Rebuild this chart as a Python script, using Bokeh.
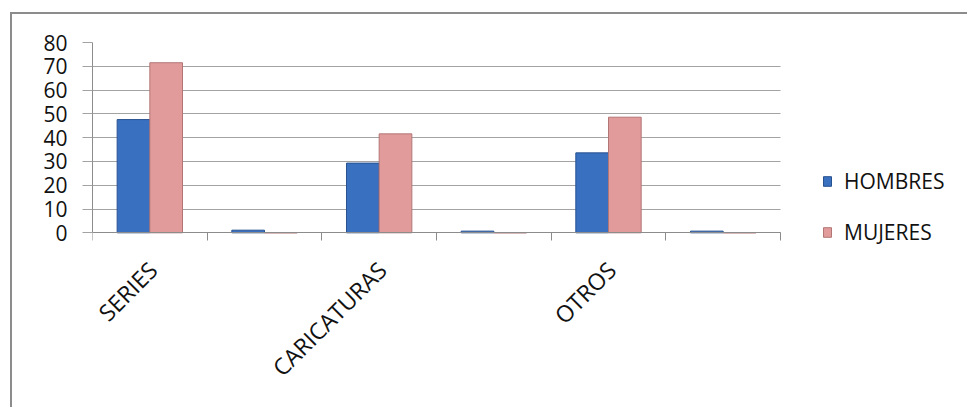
import numpy as np
from math import pi
from bokeh.plotting import figure
from bokeh.models import ColumnDataSource, FixedTicker, Range1d, Legend, LegendItem
from bokeh.core.properties import value
from bokeh.embed import file_html
from bokeh.resources import INLINE

# ---- data ----
categories = ["SERIES", "", "CARICATURAS", "", "OTROS", ""]
hombres = [47.6, 1.1, 29.3, 0.7, 33.6, 0.7]
mujeres = [71.5, 0.0, 41.6, 0.0, 48.6, 0.0]
series_names = ["HOMBRES", "MUJERES"]
y_ticks = [0, 10, 20, 30, 40, 50, 60, 70, 80]

FONT = "Open Sans"
AXIS_COL = "#8c8c8c"
GRID_COL = "#a3a3a3"
TEXT_COL = "#111111"
BLUE, BLUE_EDGE = "#3a70c0", "#27518f"
PINK, PINK_EDGE = "#e29b9b", "#b37676"

# ---- layout (pixels) ----
LEFT, TOP, BOTTOM = 80, 28, 25
FRAME_W, FRAME_H = 875, 340
PLOT_W, PLOT_H = 688, 190.3          # area holding the bars (categories x 0..80)

n = len(categories)
centers = np.arange(n) + 0.5
bw = 0.285
x_end = n * FRAME_W / PLOT_W
y_lo, y_hi = y_ticks[0], y_ticks[-1]
y_start = y_lo - (FRAME_H - PLOT_H) * (y_hi - y_lo) / PLOT_H

src = ColumnDataSource(dict(
    xh=centers - bw / 2, xm=centers + bw / 2,
    hombres=hombres, mujeres=mujeres,
))
named = [(float(c), name) for c, name in zip(centers, categories) if name]
lab_src = ColumnDataSource(dict(x=[c for c, _ in named], y=[y_lo] * len(named),
                                text=[nm for _, nm in named]))

p = figure(frame_width=FRAME_W, frame_height=FRAME_H, output_backend="svg",
           toolbar_location=None,
           x_range=Range1d(0, x_end), y_range=Range1d(y_start, y_hi),
           min_border_left=LEFT, min_border_right=0, min_border_top=TOP,
           min_border_bottom=BOTTOM)
p.outline_line_color = None
p.background_fill_color = "white"
p.border_fill_color = "white"
p.styles = {"border-top": f"2px solid {AXIS_COL}", "border-left": f"2px solid {AXIS_COL}",
            "margin-left": "10px", "margin-top": "12px"}

rh = p.vbar(x="xh", top="hombres", width=bw, bottom=0, source=src,
            fill_color=BLUE, line_color=BLUE_EDGE, line_width=1)
rm = p.vbar(x="xm", top="mujeres", width=bw, bottom=0, source=src,
            fill_color=PINK, line_color=PINK_EDGE, line_width=1)

# category labels, rotated 45 degrees, ending at the category centre
p.text(x="x", y="y", text="text", source=lab_src, angle=pi / 4, y_offset=33,
       x_offset=3, text_align="right", text_baseline="middle", text_font=value(FONT),
       text_font_size="23px", text_color=TEXT_COL)

# grid
p.xgrid.visible = False
p.ygrid.ticker = FixedTicker(ticks=y_ticks)
p.ygrid.grid_line_color = GRID_COL
p.ygrid.grid_line_width = 1
p.ygrid.cross_bounds = (0, n)

# y axis
ya = p.yaxis[0]
ya.ticker = FixedTicker(ticks=y_ticks)
ya.bounds = (y_lo, y_hi)
ya.axis_line_color = AXIS_COL
ya.major_tick_line_color = GRID_COL
ya.major_tick_out = 10
ya.major_tick_in = 0
ya.minor_tick_line_color = None
ya.major_label_standoff = 15
ya.major_label_text_font = FONT
ya.major_label_text_font_size = "21px"
ya.major_label_text_color = TEXT_COL

# x axis at value 0: tick marks at the category boundaries
xa = p.xaxis[0]
xa.fixed_location = y_lo
xa.bounds = (0, n)
xa.ticker = FixedTicker(ticks=[], minor_ticks=list(range(n + 1)))
xa.axis_line_color = AXIS_COL
xa.major_tick_line_color = None
xa.minor_tick_line_color = AXIS_COL
xa.minor_tick_out = 8
xa.minor_tick_in = 0
xa.major_label_text_font_size = "0px"

legend = Legend(items=[LegendItem(label=series_names[0], renderers=[rh]),
                       LegendItem(label=series_names[1], renderers=[rm])],
                location=(730, FRAME_H - 204))
legend.border_line_color = None
legend.background_fill_alpha = 0
legend.padding = 0
legend.margin = 0
legend.glyph_width = 10
legend.glyph_height = 12
legend.label_standoff = 12
legend.spacing = 23
legend.label_height = 22
legend.label_text_font = FONT
legend.label_text_font_size = "21px"
legend.label_text_color = TEXT_COL
p.add_layout(legend)

open("out.html", "w").write(file_html(p, INLINE))
